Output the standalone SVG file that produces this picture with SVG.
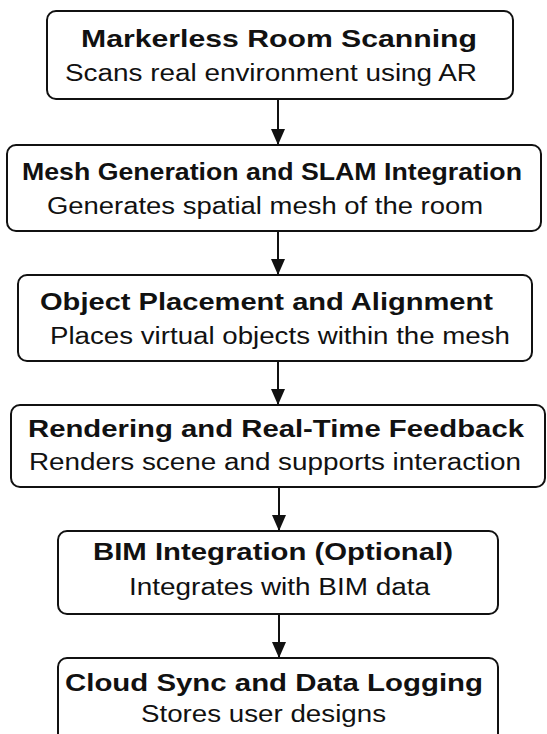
<svg xmlns="http://www.w3.org/2000/svg" width="547" height="734" viewBox="0 0 547 734">
  <style>
    .box { fill: #ffffff; stroke: #111111; stroke-width: 2; }
    .title { font-family: "Liberation Sans", Arial, sans-serif; font-weight: bold; font-size: 24px; fill: #111111; }
    .sub { font-family: "Liberation Sans", Arial, sans-serif; font-size: 23px; fill: #111111; }
    .link { stroke: #111111; stroke-width: 2; fill: none; marker-end: url(#arrow); }
  </style>
  <defs>
    <!-- solid triangular head; tip sits exactly on the line end -->
    <marker id="arrow" markerUnits="userSpaceOnUse" markerWidth="16" markerHeight="14" viewBox="0 0 16 14" refX="16" refY="7" orient="auto">
      <path d="M0,0 L16,7 L0,14 Z" fill="#111111"/>
    </marker>
  </defs>
  <rect width="547" height="734" fill="#ffffff"/>

  <g id="connectors">
    <line class="link" x1="278" y1="99" x2="278" y2="145"/>
    <line class="link" x1="278" y1="231" x2="278" y2="275"/>
    <line class="link" x1="278" y1="361" x2="278" y2="405"/>
    <line class="link" x1="279" y1="487" x2="279" y2="531"/>
    <line class="link" x1="279" y1="614" x2="279" y2="658"/>
  </g>

  <g id="scanning">
    <rect class="box" x="47" y="11" width="466" height="88" rx="9"/>
    <text class="title" x="81" y="47" textLength="396" lengthAdjust="spacingAndGlyphs">Markerless Room Scanning</text>
    <text class="sub" x="65" y="81" textLength="412" lengthAdjust="spacingAndGlyphs">Scans real environment using AR</text>
  </g>

  <g id="mesh">
    <rect class="box" x="7" y="145" width="534" height="86" rx="9"/>
    <text class="title" x="22" y="180" textLength="500" lengthAdjust="spacingAndGlyphs">Mesh Generation and SLAM Integration</text>
    <text class="sub" x="47" y="214" textLength="436" lengthAdjust="spacingAndGlyphs">Generates spatial mesh of the room</text>
  </g>

  <g id="placement">
    <rect class="box" x="18" y="275" width="514" height="86" rx="9"/>
    <text class="title" x="40" y="310" textLength="453" lengthAdjust="spacingAndGlyphs">Object Placement and Alignment</text>
    <text class="sub" x="50" y="344" textLength="460" lengthAdjust="spacingAndGlyphs">Places virtual objects within the mesh</text>
  </g>

  <g id="rendering">
    <rect class="box" x="11" y="405" width="534" height="82" rx="9"/>
    <text class="title" x="28" y="437" textLength="496" lengthAdjust="spacingAndGlyphs">Rendering and Real-Time Feedback</text>
    <text class="sub" x="29" y="470" textLength="492" lengthAdjust="spacingAndGlyphs">Renders scene and supports interaction</text>
  </g>

  <g id="bim">
    <rect class="box" x="58" y="531" width="440" height="83" rx="9"/>
    <text class="title" x="93" y="560" textLength="360" lengthAdjust="spacingAndGlyphs">BIM Integration (Optional)</text>
    <text class="sub" x="129" y="595" textLength="301" lengthAdjust="spacingAndGlyphs">Integrates with BIM data</text>
  </g>

  <g id="cloud">
    <rect class="box" x="58" y="658" width="440" height="92" rx="9"/>
    <text class="title" x="65" y="691" textLength="418" lengthAdjust="spacingAndGlyphs">Cloud Sync and Data Logging</text>
    <text class="sub" x="141" y="722" textLength="245" lengthAdjust="spacingAndGlyphs">Stores user designs</text>
  </g>
</svg>
